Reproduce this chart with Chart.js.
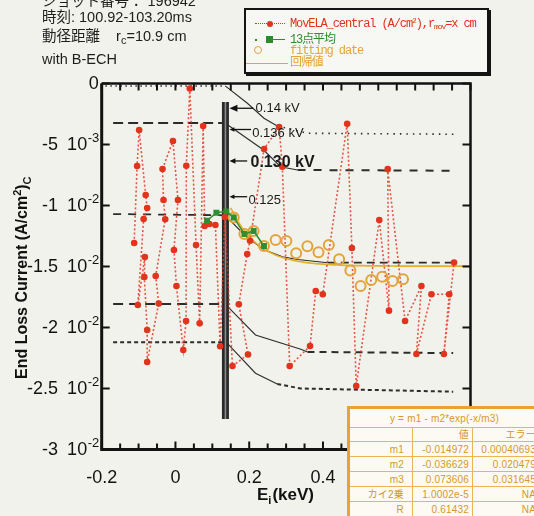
<!DOCTYPE html>
<html lang="ja">
<head>
<meta charset="utf-8">
<title>End loss current vs Ei</title>
<script src="https://cdn.jsdelivr.net/npm/chart.js@4.4.1/dist/chart.umd.min.js"></script>
<style>
  html, body { margin: 0; padding: 0; background: #f2f2ed; }
  #wrap { position: relative; width: 534px; height: 516px; overflow: hidden;
          font-family: "Liberation Sans", Arial, "Noto Sans CJK JP", sans-serif; }
  #plot { position: absolute; left: 0; top: 0; }
  .info { position: absolute; left: 42px; font-size: 14.5px; line-height: 16px; color: #1d1d1d; white-space: nowrap; }
  .info sub { font-size: 11px; vertical-align: -3px; line-height: 0; }

  #legend { position: absolute; left: 244px; top: 8px; width: 241px; height: 62px;
            border: 2px solid #141414; box-shadow: 2px 2px 0 #141414; background: #f7f7f3;
            font-family: "Liberation Mono", "DejaVu Sans Mono", "Noto Sans CJK JP", monospace;
            font-size: 12px; letter-spacing: -1.1px; }
  #legend .row { position: absolute; left: 0; width: 100%; height: 12px; }
  #legend .txt { position: absolute; left: 44px; top: 0; line-height: 12px; white-space: nowrap; }
  #legend .txt sub { font-size: 8px; vertical-align: -2px; line-height: 0; }
  #legend .txt sup { font-size: 8px; vertical-align: 4px; line-height: 0; }
  #legend i { position: absolute; display: block; }

  #fit { position: absolute; left: 347px; top: 406px; width: 192px; table-layout: fixed;
         border-collapse: collapse; border: 3px solid #e7a435; background: #fcfaf2;
         color: #d8962e; font-size: 10px; letter-spacing: 0.2px; }
  #fit td { border: 1px solid #ebb45a; padding: 0 3px; text-align: right; height: 14px;
            line-height: 13px; white-space: nowrap; overflow: hidden; }
  #fit td.hd { text-align: center; height: 18px; }
  #fit tr.sub td { height: 12px; }
</style>
</head>
<body>
<div id="wrap">
  <canvas id="plot" width="534" height="516"></canvas>

  <div class="info" style="top:-7px">ショット番号： 196942</div>
  <div class="info" style="top:9px">時刻: 100.92-103.20ms</div>
  <div class="info" style="top:28px">動径距離 &nbsp; &nbsp;r<sub>c</sub>=10.9 cm</div>
  <div class="info" style="top:51px">with B-ECH</div>

  <div id="legend">
    <div class="row" style="top:8px">
      <i style="left:9px;top:5px;width:30px;border-top:1.6px dotted #e0321e"></i>
      <i style="left:21px;top:3px;width:6px;height:6px;border-radius:50%;background:#e0321e"></i>
      <span class="txt" style="color:#e0321e">MovELA_central (A/cm<sup>2</sup>),r<sub>mov</sub>=x cm</span>
    </div>
    <div class="row" style="top:24px">
      <i style="left:9px;top:5px;width:2px;height:2px;background:#2d8a2d"></i>
      <i style="left:20px;top:2px;width:7px;height:7px;background:#2d8a2d"></i>
      <i style="left:27px;top:5px;width:12px;border-top:1.6px solid #2d8a2d"></i>
      <span class="txt" style="color:#2d8a2d">13点平均</span>
    </div>
    <div class="row" style="top:35px">
      <i style="left:8px;top:1px;width:6px;height:6px;border-radius:50%;border:1.6px solid #e3a33a"></i>
      <span class="txt" style="color:#e3a33a">fitting date</span>
    </div>
    <div class="row" style="top:47px">
      <i style="left:0;top:6px;width:42px;border-top:1.4px solid #e0a830"></i>
      <span class="txt" style="color:#e3a33a">回帰値</span>
    </div>
  </div>

  <table id="fit">
    <colgroup><col style="width:64px"><col style="width:60px"><col style="width:68px"></colgroup>
    <tbody id="fitBody"></tbody>
  </table>
</div>

<script>
// MovELA_central end loss current, plotted in acquisition order
const redX = [-0.112, -0.104, -0.0985, -0.0808, -0.0767, -0.0863, -0.102, -0.083, -0.0844, -0.0767, -0.0767,
              -0.0454, -0.0536, -0.0278, -0.0324, -0.0351,
              -0.0068, 0.0068, -0.0041, 0.0027, 0.0212, 0.0288, 0.0294, 0.0389,
              0.0558, 0.0656, 0.0751, 0.0792, 0.092, 0.1083, 0.1211, 0.1341,
              0.1546, 0.1967, 0.1717, 0.1946, 0.2022,
              0.2403, 0.2811, 0.2898, 0.3097,
              0.3649, 0.3804, 0.3995,
              0.4656, 0.4784, 0.4901,
              0.5527, 0.579, 0.5755, 0.6226,
              0.6669, 0.6533, 0.6941, 0.7423, 0.7279, 0.7554];
const redY = [-0.01307, -0.00676, -0.00381, -0.00914, -0.0102, -0.01111, -0.01816, -0.01422, -0.01586, -0.0202, -0.02283,
              -0.01803, -0.01578, -0.01113, -0.00955, -0.00701,
              -0.00471, -0.00955, -0.01365, -0.0166, -0.02184, -0.01947, -0.00674, -0.00041,
              -0.01324, -0.01966, -0.00348, -0.01168, -0.01152, -0.0116, -0.02154, -0.01094,
              -0.02316, -0.02221, -0.01809, -0.01398, -0.01289,
              -0.00537, -0.00357, -0.00682, -0.02316,
              -0.02152, -0.01701, -0.01728,
              -0.0033, -0.01348, -0.0248,
              -0.01119, -0.01862, -0.00702, -0.01947,
              -0.0166, -0.02217, -0.01728, -0.01728, -0.02217, -0.01467];

// 13-point moving average
const avgX = [0.0857, 0.111, 0.138, 0.158, 0.187, 0.212, 0.240];
const avgY = [-0.01125, -0.01059, -0.01048, -0.01098, -0.01234, -0.01209, -0.01332];

// points used for the fit
const fitDataX = [0.158, 0.187, 0.212, 0.240, 0.2716, 0.3007, 0.3273, 0.3578, 0.3878, 0.4158,
                  0.4438, 0.4743, 0.502, 0.5309, 0.5605, 0.5886, 0.6171];
const fitDataY = [-0.01098, -0.01234, -0.01209, -0.01332, -0.01283, -0.01291, -0.01392, -0.01334, -0.01384, -0.01324,
                  -0.0144, -0.01533, -0.0166, -0.01611, -0.01584, -0.01619, -0.01605];

// fit result table: y = m1 - m2*exp(-x/m3)
const fitNames = ['m1', 'm2', 'm3', 'カイ2乗', 'R'];
const fitValues = [-0.014972, -0.036629, 0.073606, 1.0002e-5, 0.61432];
const fitValueText = ['-0.014972', '-0.036629', '0.073606', '1.0002e-5', '0.61432'];
const fitErrors = ['0.00040693', '0.020479', '0.031645', 'NA', 'NA'];

// threshold guide lines (flat below the barrier, relaxing to a new level above it)
const guide1X = [-0.19, 0.135, 0.195, 0.24, 0.276, 0.358, 0.756];
const guide1Y = [-0.0002, -0.0002, -0.00162, -0.00285, -0.00348, -0.00408, -0.00416];
const guide2X = [-0.169, 0.135, 0.149, 0.239, 0.285, 0.331, 0.753];
const guide2Y = [-0.00324, -0.00324, -0.00354, -0.00545, -0.00682, -0.00709, -0.00715];
const guide3X = [-0.169, 0.135, 0.19, 0.239, 0.29, 0.331, 0.413, 0.753];
const guide3Y = [-0.0107, -0.0108, -0.0125, -0.01361, -0.0142, -0.01443, -0.01469, -0.01469];
const guide4X = [-0.169, 0.135, 0.145, 0.217, 0.34, 0.358, 0.753];
const guide4Y = [-0.01807, -0.01807, -0.0184, -0.02061, -0.02179, -0.022, -0.0221];
const guide5X = [-0.169, 0.135, 0.1445, 0.217, 0.276, 0.34, 0.753];
const guide5Y = [-0.02121, -0.02121, -0.02143, -0.02375, -0.02463, -0.025, -0.02526];

// barrier energy marker
const barX = [0.1355, 0.1355];
const barY = [-0.00152, -0.0275];

const kvNotes = [
  { text: '0.14 kV',  x: 0.2172, y: -0.00203, ay: -0.00203, tail: 0.211, size: 13, bold: false, head: 8 },
  { text: '0.136 kV', x: 0.2082, y: -0.00406, ay: -0.00377, tail: 0.205, size: 13, bold: false, head: 5 },
  { text: '0.130 kV', x: 0.2035, y: -0.00649, ay: -0.00635, tail: 0.1945, size: 16, bold: true, head: 6 },
  { text: '0.125',    x: 0.198,  y: -0.00959, ay: -0.00928, tail: 0.1945, size: 13, bold: false, head: 5 }
];

const pts = (xs, ys) => xs.map((x, i) => ({ x, y: ys[i] }));

// regression curve from the table parameters
const [m1, m2, m3] = fitValues;
const curve = [];
for (let i = 15; i <= 80; i++) {
  const x = i / 100;
  curve.push({ x, y: m1 - m2 * Math.exp(-x / m3) });
}

// table
document.getElementById('fitBody').innerHTML =
  `<tr><td colspan="3" class="hd">y = m1 - m2*exp(-x/m3)</td></tr>` +
  `<tr class="sub"><td></td><td>値</td><td>エラー</td></tr>` +
  fitNames.map((n, i) => `<tr><td style="padding-right:8px">${n}</td><td>${fitValueText[i]}</td><td>${fitErrors[i]}</td></tr>`).join('');

function guide(xs, ys, rightFrom, leftDash, rightDash, width, order) {
  return {
    data: pts(xs, ys), showLine: true, pointRadius: 0, borderColor: '#2c2c2c',
    borderWidth: width, order,
    segment: {
      borderDash: c => c.p0DataIndex < 1 ? leftDash : (c.p0DataIndex >= rightFrom ? rightDash : []),
      borderWidth: c => (c.p0DataIndex < 1 || c.p0DataIndex >= rightFrom) ? width : 1.1
    }
  };
}

const FONT = '"Liberation Sans", Arial, sans-serif';

const decor = {
  id: 'decor',
  afterDraw(chart) {
    const { ctx, chartArea: a, scales: { x, y } } = chart;
    ctx.save();
    ctx.strokeStyle = '#121212';
    ctx.fillStyle = '#121212';

    // frame
    ctx.lineWidth = 3;
    ctx.beginPath();
    ctx.moveTo(a.left, a.top); ctx.lineTo(a.left, a.bottom); ctx.lineTo(a.right, a.bottom);
    ctx.stroke();
    ctx.lineWidth = 2.5;
    ctx.beginPath();
    ctx.moveTo(a.left, a.top); ctx.lineTo(a.right, a.top); ctx.lineTo(a.right, a.bottom);
    ctx.stroke();

    // inward ticks, minor every 0.05 on x
    ctx.lineWidth = 2;
    for (let i = 0; i <= 20; i++) {
      const px = x.getPixelForValue(-0.2 + i * 0.05);
      const len = i % 4 === 0 ? 8 : 6;
      ctx.beginPath();
      ctx.moveTo(px, a.bottom); ctx.lineTo(px, a.bottom - len);
      ctx.moveTo(px, a.top); ctx.lineTo(px, a.top + 7);
      ctx.stroke();
    }
    y.ticks.forEach(t => {
      const py = y.getPixelForValue(t.value);
      ctx.beginPath();
      ctx.moveTo(a.left, py); ctx.lineTo(a.left + 8, py);
      ctx.moveTo(a.right, py); ctx.lineTo(a.right - 8, py);
      ctx.stroke();
    });

    // y tick labels as "m 10^e"
    ctx.textBaseline = 'middle';
    ctx.textAlign = 'left';
    const right = a.left - 3;
    const baseFont = '18px ' + FONT, supFont = '13px ' + FONT;
    y.ticks.forEach(t => {
      const v = t.value, py = y.getPixelForValue(v) + 1;
      ctx.font = baseFont;
      if (Math.abs(v) < 1e-12) {
        ctx.fillText('0', right - ctx.measureText('0').width, py);
        return;
      }
      const e = Math.floor(Math.log10(Math.abs(v)) + 1e-9);
      const m = +(v / Math.pow(10, e)).toFixed(1);
      const mant = String(m), base = '10', sup = String(e);
      const wm = ctx.measureText(mant).width, wb = ctx.measureText(base).width;
      ctx.font = supFont;
      const ws = ctx.measureText(sup).width;
      const x0 = right - ws - wb - 9 - wm;
      ctx.font = baseFont;
      ctx.fillText(mant, x0, py);
      ctx.fillText(base, x0 + wm + 9, py);
      ctx.font = supFont;
      ctx.fillText(sup, x0 + wm + 9 + wb + 0.5, py - 7);
    });

    // axis titles
    ctx.textBaseline = 'alphabetic';
    ctx.font = 'bold 17px ' + FONT;
    let tx = 257;
    ctx.fillText('E', tx, 500); tx += ctx.measureText('E').width;
    ctx.font = 'bold 11px ' + FONT;
    ctx.fillText('i', tx, 504); tx += ctx.measureText('i').width + 1;
    ctx.font = 'bold 17px ' + FONT;
    ctx.fillText('(keV)', tx, 500);

    ctx.save();
    ctx.translate(27, 379);
    ctx.rotate(-Math.PI / 2);
    ctx.font = 'bold 16px ' + FONT;
    let ty = 0;
    const part1 = 'End Loss Current (A/cm';
    ctx.fillText(part1, ty, 0); ty += ctx.measureText(part1).width;
    ctx.font = 'bold 11px ' + FONT;
    ctx.fillText('2', ty, -6); ty += ctx.measureText('2').width;
    ctx.font = 'bold 16px ' + FONT;
    ctx.fillText(')', ty, 0); ty += ctx.measureText(')').width;
    ctx.font = 'bold 11px ' + FONT;
    ctx.fillText('C', ty, 4);
    ctx.restore();

    // barrier voltage notes with arrows to the marker
    const tip = x.getPixelForValue(0.1464);
    kvNotes.forEach(n => {
      const ly = y.getPixelForValue(n.ay), tl = x.getPixelForValue(n.tail);
      ctx.lineWidth = 1.3;
      ctx.beginPath(); ctx.moveTo(tl, ly); ctx.lineTo(tip + n.head - 1, ly); ctx.stroke();
      ctx.beginPath();
      ctx.moveTo(tip, ly); ctx.lineTo(tip + n.head, ly - n.head * 0.45); ctx.lineTo(tip + n.head, ly + n.head * 0.45);
      ctx.closePath(); ctx.fill();
      ctx.font = (n.bold ? 'bold ' : '') + n.size + 'px ' + FONT;
      ctx.textBaseline = 'middle';
      ctx.fillStyle = '#1a1a1a';
      ctx.fillText(n.text, x.getPixelForValue(n.x), y.getPixelForValue(n.y));
      ctx.fillStyle = '#121212';
    });
    ctx.restore();
  }
};

new Chart(document.getElementById('plot'), {
  type: 'scatter',
  data: {
    datasets: [
      { label: '13点平均', data: pts(avgX, avgY), showLine: true, borderColor: '#2f8f2f', borderWidth: 1.5,
        pointStyle: 'rect', pointRadius: 4.2, pointBackgroundColor: '#2f8f2f', pointBorderWidth: 0, order: 1 },
      { label: 'fitting date', data: pts(fitDataX, fitDataY), showLine: false, pointRadius: 5,
        pointBorderWidth: 2, pointBorderColor: '#e3a33a', pointBackgroundColor: 'rgba(0,0,0,0)', order: 2 },
      { label: 'MovELA_central', data: pts(redX, redY), showLine: true, borderColor: 'rgba(226,58,38,0.85)',
        borderWidth: 1.6, borderDash: [2, 2.2], pointRadius: 3.3, pointBackgroundColor: '#e2331d',
        pointBorderWidth: 0, order: 3 },
      { label: 'bar core', data: pts(barX, barY), showLine: true, pointRadius: 0, borderColor: '#8c8c8c',
        borderWidth: 1.6, order: 4 },
      { label: 'bar', data: pts(barX, barY), showLine: true, pointRadius: 0, borderColor: '#2a2a2a',
        borderWidth: 7, order: 5 },
      { label: '回帰値', data: curve, showLine: true, pointRadius: 0, borderColor: '#e2b02c',
        borderWidth: 1.7, order: 6 },
      guide(guide1X, guide1Y, 4, [1.5, 3.5], [1.5, 5], 1.6, 7),
      guide(guide2X, guide2Y, 5, [10, 5], [8, 8], 2, 8),
      guide(guide3X, guide3Y, 6, [8, 7], [8, 5], 1.8, 9),
      guide(guide4X, guide4Y, 5, [10, 6], [7, 5], 2, 10),
      guide(guide5X, guide5Y, 4, [4, 3], [4, 3], 2, 11)
    ]
  },
  options: {
    responsive: false,
    animation: false,
    devicePixelRatio: 1,
    layout: { padding: { top: 83.5, right: 63.5, left: 0, bottom: 0 } },
    plugins: { legend: { display: false }, tooltip: { enabled: false } },
    scales: {
      x: {
        type: 'linear', min: -0.2, max: 0.8,
        grid: { display: false }, border: { display: false },
        ticks: {
          stepSize: 0.2, padding: 10, color: '#121212',
          font: { size: 18, family: FONT },
          callback: v => Math.abs(v) < 1e-9 ? '0' : v.toFixed(1)
        },
        afterFit: s => { s.height = 66.5; }
      },
      y: {
        type: 'linear', min: -0.03, max: 0,
        grid: { display: false }, border: { display: false },
        ticks: { stepSize: 0.005, display: false },
        afterFit: s => { s.width = 101.7; }
      }
    }
  },
  plugins: [decor]
});
</script>
</body>
</html>
